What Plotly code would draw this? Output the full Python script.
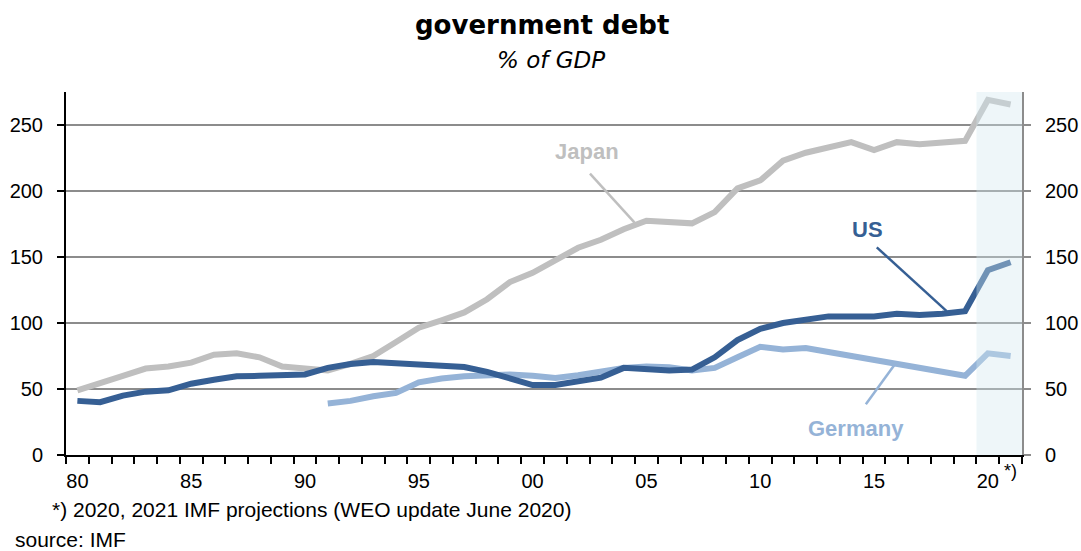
import plotly.graph_objects as go

years = list(range(1980, 2022))
japan = [49, 55, 60, 65.5, 67, 70, 76, 77, 74, 67, 65, 64, 69, 75, 85.6, 96.4, 102, 108, 118, 131,
         138, 147, 157, 163, 171, 177.5, 177, 175.5, 184, 202, 208, 223, 229, 233, 237, 231, 237, 235.5, 237, 238,
         269, 265.5]
us = [41, 40, 45, 48, 49, 54, 57, 59.6, 60, 60, 61, 66, 69, 70.5, 69.5, 69, 68, 66.7, 63, 58,
      53, 53, 55.4, 58.6, 66, 65, 64, 64.7, 74, 87, 95.6, 100, 103, 105, 105, 105, 107, 106, 107, 109,
      140, 146]
germany_years = list(range(1991, 2022))
germany = [39, 41, 44.5, 47, 55, 58, 59.6, 60.4, 61, 60, 58.4, 60.4, 63.7, 66, 67, 66.5, 64, 66, 74, 82,
           80, 81, 78, 75, 72, 69, 66, 63, 60, 77, 75]

xtick_vals = [1980, 1985, 1990, 1995, 2000, 2005, 2010, 2015, 2020]
xtick_text = ["80", "85", "90", "95", "00", "05", "10", "15", "20"]
ytick_vals = [0, 50, 100, 150, 200, 250]

C_JP = "#bfbfbf"
C_US = "#365f94"
C_DE = "#95b3d7"
FONT = "Liberation Sans, Arial, sans-serif"

W, H = 1081, 551
L, R, T, B = 66, 59, 92, 96
pw, ph = W - L - R, H - T - B

fig = go.Figure()
fig.add_trace(go.Scatter(x=years, y=japan, mode="lines", line=dict(color=C_JP, width=6), showlegend=False))
fig.add_trace(go.Scatter(x=germany_years, y=germany, mode="lines", line=dict(color=C_DE, width=6), showlegend=False))
fig.add_trace(go.Scatter(x=years, y=us, mode="lines", line=dict(color=C_US, width=6), showlegend=False))
fig.add_trace(go.Scatter(x=[years[0]], y=[0], yaxis="y2", mode="markers", marker=dict(opacity=0),
                         showlegend=False, hoverinfo="skip"))

fig.update_layout(
    width=W, height=H,
    margin=dict(l=L, r=R, t=T, b=B),
    paper_bgcolor="white", plot_bgcolor="white",
    font=dict(family=FONT, size=20, color="black"),
    xaxis=dict(range=[1979.5, 2021.5], tickmode="array", tickvals=xtick_vals, ticktext=xtick_text,
               ticks="", showgrid=False, zeroline=False, showline=True, linecolor="black", linewidth=2,
               ticklabelstandoff=7, tickfont=dict(size=20, family=FONT), automargin=False,
               minor=dict(tickmode="linear", tick0=1979.5, dtick=1, ticks="outside", ticklen=7,
                          tickwidth=2, tickcolor="black", showgrid=False)),
    yaxis=dict(range=[0, 275], tickmode="array", tickvals=ytick_vals, showgrid=True, gridcolor="#8c8c8c",
               gridwidth=2, zeroline=False, showline=True, linecolor="black", linewidth=2,
               ticks="outside", ticklen=7, tickwidth=2, tickcolor="black", ticklabelstandoff=10,
               tickfont=dict(size=20, family=FONT), automargin=False),
    yaxis2=dict(range=[0, 275], overlaying="y", side="right", tickmode="array", tickvals=ytick_vals,
                showgrid=False, zeroline=False, showline=True, linecolor="#8c8c8c", linewidth=2,
                ticks="outside", ticklen=7, tickwidth=2, tickcolor="#8c8c8c", ticklabelstandoff=10,
                tickfont=dict(size=20, family=FONT), automargin=False),
)

# projection shading
fig.add_shape(type="rect", xref="x", yref="paper", x0=2019.5, x1=2021.5, y0=0, y1=1,
              fillcolor="rgba(209,232,238,0.38)", line_width=0, layer="above")

# leader lines
fig.add_shape(type="line", xref="x", yref="y", x0=2002.52, y0=213.2, x1=2004.47, y1=176.2,
              line=dict(color=C_JP, width=2.5))
fig.add_shape(type="line", xref="x", yref="y", x0=2015.12, y0=157.3, x1=2018.19, y1=109,
              line=dict(color=C_US, width=2.5))
fig.add_shape(type="line", xref="x", yref="y", x0=2014.64, y0=38.5, x1=2015.99, y1=70.5,
              line=dict(color=C_DE, width=2.5))

ann_font = lambda c: dict(family=FONT, size=22, color=c)
for (xx, yy, txt, col) in [(2002.39, 230, "<b>Japan</b>", C_JP), (2014.73, 170.7, "<b>US</b>", C_US),
                           (2014.2, 20.4, "<b>Germany</b>", C_DE)]:
    fig.add_annotation(x=xx, y=yy, xref="x", yref="y", text=txt, showarrow=False, font=ann_font(col),
                       xanchor="center", yanchor="middle")


def pix_ann(px, py, text, size, family=FONT, xanchor="center"):
    fig.add_annotation(x=(px - L) / pw, y=(H - B - py) / ph, xref="paper", yref="paper", text=text,
                       showarrow=False, xanchor=xanchor, yanchor="middle",
                       font=dict(family=family, size=size, color="black"))


pix_ann(542, 25, "<b>government debt</b>", 26, family="DejaVu Sans, Verdana")
pix_ann(551, 60, "<i>% of GDP</i>", 23, family="DejaVu Sans, Verdana")
pix_ann(50, 509, "*) 2020, 2021 IMF projections (WEO update June 2020)", 21, xanchor="left")
pix_ann(13, 539, "source: IMF", 21, xanchor="left")
pix_ann(1002, 471, "*)", 18, xanchor="left")

fig.write_html("out.html")
